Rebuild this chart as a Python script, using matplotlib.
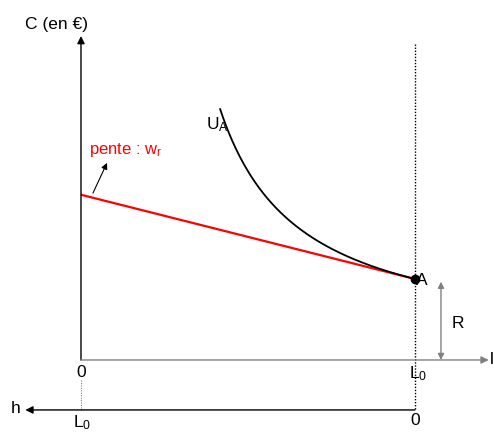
import matplotlib
matplotlib.use("Agg")
import matplotlib.pyplot as plt
import numpy as np

plt.rcParams["font.family"] = ["Liberation Sans", "DejaVu Sans"]
plt.rcParams["mathtext.default"] = "regular"

# ── Données du modèle loisir / consommation ─────────────────
L0 = 24.0          # dotation en temps
R = 300.0          # revenu hors travail (€)
w_r = 13.0         # salaire réel = pente de la contrainte
s_curv = 19.7      # courbure de l'indifférence U_A
l_start = 10.0     # début du tracé de U_A

# droite de budget : C = R + w_r (L0 - l)
budget_l = np.array([0.0, L0])
budget_C = R + w_r * (L0 - budget_l)

# courbe d'indifférence tangente en A : C = c + k / (l - b)
k = w_r * s_curv ** 2
c = R - w_r * s_curv
b = L0 - s_curv
curve_l = np.linspace(l_start, L0, 200)
curve_C = c + k / (curve_l - b)

fig = plt.figure(figsize=(4.94, 4.32), dpi=100)
ax = fig.add_axes([0, 0, 1, 1])
ax.set_xlim(-5.82, 29.68)
ax.set_ylim(-266.7, 1333.3)
ax.axis("off")

GRAY = "#808080"
arrow = dict(arrowstyle="-|>", mutation_scale=11, lw=1.0, shrinkA=0, shrinkB=0)

# axes
ax.annotate("", xy=(0, 1200), xytext=(0, 0), arrowprops=dict(arrow, color="black"))
ax.annotate("", xy=(29.3, 0), xytext=(0, 0), arrowprops=dict(arrow, color=GRAY))
ax.annotate("", xy=(-4.0, -185), xytext=(L0, -185), arrowprops=dict(arrow, color="black"))

ax.plot([L0, L0], [1170, -185], color="black", lw=1.0, ls=(0, (1, 1.2)))
ax.plot([0, 0], [-75, -185], color=GRAY, lw=0.8, ls=(0, (1, 1.2)))

# contrainte budgétaire et indifférence
ax.plot(budget_l, budget_C, color="#ff0000", lw=1.6, solid_capstyle="butt")
ax.plot(curve_l, curve_C, color="black", lw=1.3)
ax.plot([L0], [R], "o", color="black", markersize=6)

# R
ax.annotate("", xy=(25.87, R - 10), xytext=(25.87, 0),
            arrowprops=dict(arrowstyle="<|-|>", mutation_scale=9, lw=1.0,
                            color=GRAY, shrinkA=0, shrinkB=0))

# flèche vers la pente
ax.annotate("", xy=(1.87, 730), xytext=(0.86, 618),
            arrowprops=dict(arrowstyle="-|>", mutation_scale=9, lw=0.8,
                            color="black", shrinkA=0, shrinkB=0))

fs = 12.5
ax.text(-4.0, 1244, "C (en €)", fontsize=fs, ha="left", va="center")
ax.text(29.4, 0, "l", fontsize=fs, ha="left", va="center")
ax.text(-4.7, -180, "h", fontsize=fs, ha="center", va="center")
ax.text(0, -45, "0", fontsize=fs, ha="center", va="center")
ax.text(L0 + 0.2, -50, "L$_0$", fontsize=fs, ha="center", va="center")
ax.text(L0, -225, "0", fontsize=fs, ha="center", va="center")
ax.text(0.1, -232, "L$_0$", fontsize=fs, ha="center", va="center")
ax.text(L0 + 0.1, R - 5, "A", fontsize=fs, ha="left", va="center")
ax.text(27.1, 137, "R", fontsize=fs, ha="center", va="center")
ax.text(9.0, 870, "U$_A$", fontsize=fs, ha="left", va="center")
ax.text(0.55, 778, "pente : w$_r$", fontsize=fs - 0.5, color="#ff0000",
        ha="left", va="center")

fig.savefig("out.png", dpi=100, facecolor="white")
